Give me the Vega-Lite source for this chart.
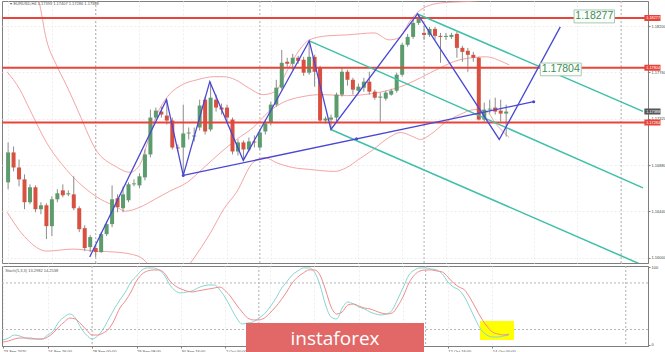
{
"$schema": "https://vega.github.io/schema/vega-lite/v6.json",
"background": "white",
"padding": {"left": 0, "top": 0, "right": 0, "bottom": 0},
"spacing": 0,
"config": {"view": {"stroke": "#7f7f7f", "strokeWidth": 1}, "axis": {"labelFont": "Liberation Sans", "domainColor": "#7f7f7f", "tickColor": "#7f7f7f", "labelColor": "#444444"}, "text": {"font": "Liberation Sans"}},
"datasets": {
"candles": [
{"i":0,"o":1.16716,"h":1.17095,"l":1.16650,"c":1.17000},
{"i":1,"o":1.17000,"h":1.17057,"l":1.16820,"c":1.16857},
{"i":2,"o":1.16857,"h":1.16933,"l":1.16678,"c":1.16744},
{"i":3,"o":1.16744,"h":1.16791,"l":1.16461,"c":1.16527},
{"i":4,"o":1.16527,"h":1.16697,"l":1.16508,"c":1.16669},
{"i":5,"o":1.16669,"h":1.16687,"l":1.16432,"c":1.16461},
{"i":6,"o":1.16461,"h":1.16527,"l":1.16413,"c":1.16498},
{"i":7,"o":1.16498,"h":1.16517,"l":1.16177,"c":1.16300},
{"i":8,"o":1.16300,"h":1.16584,"l":1.16205,"c":1.16555},
{"i":9,"o":1.16555,"h":1.16650,"l":1.16527,"c":1.16612},
{"i":10,"o":1.16640,"h":1.16697,"l":1.16574,"c":1.16593},
{"i":11,"o":1.16602,"h":1.16640,"l":1.16584,"c":1.16612},
{"i":12,"o":1.16602,"h":1.16773,"l":1.16451,"c":1.16470},
{"i":13,"o":1.16470,"h":1.16489,"l":1.16243,"c":1.16271},
{"i":14,"o":1.16281,"h":1.16309,"l":1.16063,"c":1.16092},
{"i":15,"o":1.16101,"h":1.16215,"l":1.16054,"c":1.16196},
{"i":16,"o":1.16092,"h":1.16120,"l":1.16007,"c":1.16054},
{"i":17,"o":1.16054,"h":1.16243,"l":1.16044,"c":1.16224},
{"i":18,"o":1.16224,"h":1.16347,"l":1.16205,"c":1.16319},
{"i":19,"o":1.16319,"h":1.16687,"l":1.16290,"c":1.16555},
{"i":20,"o":1.16565,"h":1.16602,"l":1.16432,"c":1.16480},
{"i":21,"o":1.16470,"h":1.16678,"l":1.16432,"c":1.16602},
{"i":22,"o":1.16546,"h":1.16716,"l":1.16527,"c":1.16697},
{"i":23,"o":1.16697,"h":1.16744,"l":1.16678,"c":1.16706},
{"i":24,"o":1.16687,"h":1.16801,"l":1.16659,"c":1.16773},
{"i":25,"o":1.16763,"h":1.17028,"l":1.16735,"c":1.16981},
{"i":26,"o":1.16981,"h":1.17407,"l":1.16952,"c":1.17331},
{"i":27,"o":1.17331,"h":1.17426,"l":1.17312,"c":1.17397},
{"i":28,"o":1.17388,"h":1.17435,"l":1.17331,"c":1.17360},
{"i":29,"o":1.17350,"h":1.17501,"l":1.17265,"c":1.17303},
{"i":30,"o":1.17303,"h":1.17331,"l":1.17028,"c":1.17047},
{"i":31,"o":1.17047,"h":1.17076,"l":1.17009,"c":1.17038},
{"i":32,"o":1.17047,"h":1.17454,"l":1.16782,"c":1.17180},
{"i":33,"o":1.17180,"h":1.17237,"l":1.17123,"c":1.17189},
{"i":34,"o":1.17151,"h":1.17237,"l":1.17104,"c":1.17161},
{"i":35,"o":1.17237,"h":1.17501,"l":1.17208,"c":1.17445},
{"i":36,"o":1.17501,"h":1.17530,"l":1.17170,"c":1.17199},
{"i":37,"o":1.17218,"h":1.17672,"l":1.17199,"c":1.17520},
{"i":38,"o":1.17501,"h":1.17549,"l":1.17388,"c":1.17426},
{"i":39,"o":1.17426,"h":1.17464,"l":1.17360,"c":1.17407},
{"i":40,"o":1.17426,"h":1.17454,"l":1.17293,"c":1.17331},
{"i":41,"o":1.17312,"h":1.17331,"l":1.16981,"c":1.17009},
{"i":42,"o":1.17009,"h":1.17123,"l":1.16971,"c":1.17095},
{"i":43,"o":1.17095,"h":1.17114,"l":1.16924,"c":1.17028},
{"i":44,"o":1.17028,"h":1.17142,"l":1.17009,"c":1.17104},
{"i":45,"o":1.17104,"h":1.17161,"l":1.17047,"c":1.17095},
{"i":46,"o":1.17047,"h":1.17218,"l":1.17028,"c":1.17189},
{"i":47,"o":1.17199,"h":1.17312,"l":1.17170,"c":1.17275},
{"i":48,"o":1.17284,"h":1.17482,"l":1.17256,"c":1.17454},
{"i":49,"o":1.17454,"h":1.17690,"l":1.17435,"c":1.17615},
{"i":50,"o":1.17615,"h":1.17974,"l":1.17596,"c":1.17851},
{"i":51,"o":1.17861,"h":1.17899,"l":1.17813,"c":1.17842},
{"i":52,"o":1.17842,"h":1.17936,"l":1.17785,"c":1.17899},
{"i":53,"o":1.17899,"h":1.17918,"l":1.17842,"c":1.17870},
{"i":54,"o":1.17880,"h":1.17908,"l":1.17728,"c":1.17757},
{"i":55,"o":1.17757,"h":1.18059,"l":1.17738,"c":1.17908},
{"i":56,"o":1.17908,"h":1.17927,"l":1.17624,"c":1.17766},
{"i":57,"o":1.17804,"h":1.17823,"l":1.17284,"c":1.17303},
{"i":58,"o":1.17303,"h":1.17341,"l":1.17275,"c":1.17322},
{"i":59,"o":1.17312,"h":1.17360,"l":1.17218,"c":1.17331},
{"i":60,"o":1.17331,"h":1.17568,"l":1.17284,"c":1.17549},
{"i":61,"o":1.17549,"h":1.17804,"l":1.17530,"c":1.17766},
{"i":62,"o":1.17766,"h":1.17785,"l":1.17634,"c":1.17690},
{"i":63,"o":1.17690,"h":1.17709,"l":1.17549,"c":1.17596},
{"i":64,"o":1.17586,"h":1.17653,"l":1.17558,"c":1.17624},
{"i":65,"o":1.17615,"h":1.17709,"l":1.17577,"c":1.17672},
{"i":66,"o":1.17672,"h":1.17766,"l":1.17549,"c":1.17577},
{"i":67,"o":1.17577,"h":1.17596,"l":1.17501,"c":1.17520},
{"i":68,"o":1.17520,"h":1.17568,"l":1.17284,"c":1.17530},
{"i":69,"o":1.17511,"h":1.17586,"l":1.17492,"c":1.17568},
{"i":70,"o":1.17549,"h":1.17605,"l":1.17539,"c":1.17586},
{"i":71,"o":1.17586,"h":1.17757,"l":1.17568,"c":1.17738},
{"i":72,"o":1.17738,"h":1.18041,"l":1.17719,"c":1.18022},
{"i":73,"o":1.18022,"h":1.18126,"l":1.18003,"c":1.18097},
{"i":74,"o":1.18097,"h":1.18258,"l":1.18078,"c":1.18230},
{"i":75,"o":1.18230,"h":1.18315,"l":1.18211,"c":1.18286},
{"i":76,"o":1.18135,"h":1.18201,"l":1.18069,"c":1.18116},
{"i":77,"o":1.18116,"h":1.18192,"l":1.18097,"c":1.18173},
{"i":78,"o":1.18173,"h":1.18192,"l":1.18069,"c":1.18107},
{"i":79,"o":1.18107,"h":1.18135,"l":1.17851,"c":1.18097},
{"i":80,"o":1.18097,"h":1.18135,"l":1.18069,"c":1.18107},
{"i":81,"o":1.18097,"h":1.18135,"l":1.18078,"c":1.18116},
{"i":82,"o":1.18126,"h":1.18145,"l":1.17899,"c":1.17993},
{"i":83,"o":1.17993,"h":1.18012,"l":1.17861,"c":1.17955},
{"i":84,"o":1.17965,"h":1.17993,"l":1.17766,"c":1.17927},
{"i":85,"o":1.17927,"h":1.17955,"l":1.17861,"c":1.17899},
{"i":86,"o":1.17899,"h":1.17908,"l":1.17303,"c":1.17312},
{"i":87,"o":1.17312,"h":1.17473,"l":1.17293,"c":1.17407},
{"i":88,"o":1.17407,"h":1.17501,"l":1.17369,"c":1.17416},
{"i":89,"o":1.17426,"h":1.17520,"l":1.17360,"c":1.17388},
{"i":90,"o":1.17397,"h":1.17501,"l":1.17293,"c":1.17369},
{"i":91,"o":1.17369,"h":1.17454,"l":1.17151,"c":1.17388}
],
"bands": [
{"b":"u","i":4.32,"p":1.18589},{"b":"u","i":5.58,"p":1.18447},{"b":"u","i":7.01,"p":1.18069},{"b":"u","i":8.81,"p":1.17832},{"b":"u","i":10.61,"p":1.17643},{"b":"u","i":11.87,"p":1.17501},{"b":"u","i":13.31,"p":1.17331},{"b":"u","i":16.01,"p":1.17028},{"b":"u","i":19.6,"p":1.16868},{"b":"u","i":22.3,"p":1.16811},{"b":"u","i":24.1,"p":1.16886},{"b":"u","i":25.36,"p":1.17076},{"b":"u","i":26.8,"p":1.17312},{"b":"u","i":29.14,"p":1.1753},{"b":"u","i":31.83,"p":1.17643},{"b":"u","i":34.53,"p":1.1769},{"b":"u","i":37.59,"p":1.17719},{"b":"u","i":39.39,"p":1.17719},{"b":"u","i":41.55,"p":1.1769},{"b":"u","i":43.88,"p":1.17615},{"b":"u","i":46.58,"p":1.17549},{"b":"u","i":48.74,"p":1.17577},{"b":"u","i":51.08,"p":1.17785},{"b":"u","i":53.24,"p":1.17974},{"b":"u","i":55.04,"p":1.18069},{"b":"u","i":58.27,"p":1.18107},{"b":"u","i":61.87,"p":1.18116},{"b":"u","i":66.91,"p":1.18135},{"b":"u","i":69.6,"p":1.18069},{"b":"u","i":71.4,"p":1.18088},{"b":"u","i":73.56,"p":1.18258},{"b":"u","i":75.36,"p":1.18353},{"b":"u","i":78.96,"p":1.18419},{"b":"u","i":85.25,"p":1.18438},{"b":"u","i":89.75,"p":1.18466},{"b":"u","i":91.55,"p":1.18495},
{"b":"m","i":-0.18,"p":1.17766},{"b":"m","i":2.16,"p":1.17596},{"b":"m","i":3.96,"p":1.17407},{"b":"m","i":7.01,"p":1.17095},{"b":"m","i":10.61,"p":1.16839},{"b":"m","i":13.67,"p":1.16678},{"b":"m","i":16.91,"p":1.16555},{"b":"m","i":19.6,"p":1.16489},{"b":"m","i":21.4,"p":1.16442},{"b":"m","i":24.1,"p":1.1648},{"b":"m","i":26.8,"p":1.16555},{"b":"m","i":29.5,"p":1.16631},{"b":"m","i":32.73,"p":1.16716},{"b":"m","i":35.79,"p":1.16857},{"b":"m","i":38.85,"p":1.17},{"b":"m","i":41.73,"p":1.17123},{"b":"m","i":44.78,"p":1.17237},{"b":"m","i":47.48,"p":1.17379},{"b":"m","i":50.18,"p":1.17473},{"b":"m","i":53.78,"p":1.1753},{"b":"m","i":57.37,"p":1.17549},{"b":"m","i":61.87,"p":1.17539},{"b":"m","i":66.37,"p":1.17558},{"b":"m","i":69.96,"p":1.17596},{"b":"m","i":72.66,"p":1.17643},{"b":"m","i":75.36,"p":1.17709},{"b":"m","i":78.96,"p":1.17804},{"b":"m","i":82.55,"p":1.1788},{"b":"m","i":87.41,"p":1.17908},{"b":"m","i":90.29,"p":1.17861},{"b":"m","i":91.55,"p":1.17832},
{"b":"l","i":-0.18,"p":1.16432},{"b":"l","i":3.42,"p":1.16177},{"b":"l","i":7.01,"p":1.16063},{"b":"l","i":11.87,"p":1.16082},{"b":"l","i":16.01,"p":1.16063},{"b":"l","i":19.6,"p":1.16054},{"b":"l","i":23.74,"p":1.16016},{"b":"l","i":25.54,"p":1.1594},{"b":"l","i":26.8,"p":1.15846},{"b":"l","i":30.4,"p":1.15751},{"b":"l","i":33.45,"p":1.15959},{"b":"l","i":37.05,"p":1.16243},{"b":"l","i":39.39,"p":1.16461},{"b":"l","i":41.73,"p":1.16622},{"b":"l","i":44.78,"p":1.16905},{"b":"l","i":46.94,"p":1.16952},{"b":"l","i":48.92,"p":1.16905},{"b":"l","i":51.98,"p":1.16857},{"b":"l","i":55.04,"p":1.16839},{"b":"l","i":59.71,"p":1.1682},{"b":"l","i":61.87,"p":1.16857},{"b":"l","i":64.03,"p":1.16933},{"b":"l","i":66.73,"p":1.17028},{"b":"l","i":69.06,"p":1.17123},{"b":"l","i":71.76,"p":1.17189},{"b":"l","i":73.92,"p":1.17151},{"b":"l","i":75.36,"p":1.17123},{"b":"l","i":77.16,"p":1.1717},{"b":"l","i":79.86,"p":1.17284},{"b":"l","i":82.55,"p":1.1736},{"b":"l","i":85.25,"p":1.17407},{"b":"l","i":87.41,"p":1.17388},{"b":"l","i":89.21,"p":1.17265},{"b":"l","i":91.55,"p":1.17142}
],
"zig": [
{"k":0,"i":14.91,"p":1.16007},{"k":1,"i":28.94,"p":1.17501},{"k":2,"i":32.0,"p":1.16782},{"k":3,"i":36.85,"p":1.17672},{"k":4,"i":42.97,"p":1.16924},{"k":5,"i":55.02,"p":1.18059},{"k":6,"i":58.98,"p":1.17218},{"k":7,"i":74.81,"p":1.18315},{"k":8,"i":89.74,"p":1.17123},{"k":9,"i":100.89,"p":1.18192}
],
"trend": [{"i1":32.0,"p1":1.16782,"i2":96.03,"p2":1.17482}],
"dots": [{"i":32.0,"p":1.16782},{"i":63.66,"p":1.17129},{"i":96.03,"p":1.17482}],
"chan": [
{"i1":74.81,"p1":1.18315,"i2":116,"p2":1.1739},
{"i1":55.02,"p1":1.18059,"i2":116,"p2":1.16664},
{"i1":58.98,"p1":1.17218,"i2":116,"p2":1.15928}
],
"levels": [{"p":1.18277},{"p":1.17804},{"p":1.17284}],
"boxes": [
{"t":"1.18277","x1":103.4,"x2":110.8,"y1":1.18353,"y2":1.1823,"tx":107.1,"ty":1.18291},
{"t":"1.17804","x1":97.24,"x2":104.72,"y1":1.17849,"y2":1.17728,"tx":100.98,"ty":1.17788}
],
"tags": [
{"t":"1.18277","p":1.18277,"kind":"r"},
{"t":"1.17804","p":1.17804,"kind":"r"},
{"t":"1.17284","p":1.17284,"kind":"r"},
{"t":"1.17388","p":1.17388,"kind":"g"}
],
"seps": [{"i":16},{"i":46},{"i":76},{"i":112}],
"stoch": [
{"i":0,"k":6.5,"d":3.9},{"i":1,"k":9,"d":5.2},{"i":2,"k":12.9,"d":7.7},{"i":3,"k":11.6,"d":9},{"i":4,"k":9,"d":9},{"i":5,"k":7.7,"d":9},{"i":6,"k":7.7,"d":7.7},{"i":7,"k":7.7,"d":7.7},{"i":8,"k":12.9,"d":10.3},{"i":9,"k":18.1,"d":15.5},
{"i":10,"k":29.7,"d":23.2},{"i":11,"k":36.1,"d":29.7},{"i":12,"k":40,"d":34.8},{"i":13,"k":34.8,"d":33.5},{"i":14,"k":21.9,"d":27.1},{"i":15,"k":12.9,"d":19.4},{"i":16,"k":7.7,"d":12.9},{"i":17,"k":11.6,"d":12.9},{"i":18,"k":20.6,"d":15.5},{"i":19,"k":33.5,"d":20.6},
{"i":20,"k":46.5,"d":32.3},{"i":21,"k":58.1,"d":47.7},{"i":22,"k":68.4,"d":56.8},{"i":23,"k":81.3,"d":68.4},{"i":24,"k":89,"d":82.6},{"i":25,"k":96.8,"d":91.6},{"i":26,"k":99.4,"d":95.5},{"i":27,"k":99.4,"d":96.8},{"i":28,"k":96.8,"d":96.8},{"i":29,"k":90.3,"d":92.9},
{"i":30,"k":77.4,"d":82.6},{"i":31,"k":69.7,"d":76.1},{"i":32,"k":67.1,"d":72.3},{"i":33,"k":68.4,"d":69.7},{"i":34,"k":69.7,"d":68.4},{"i":35,"k":73.5,"d":69.7},{"i":36,"k":76.1,"d":71},{"i":37,"k":77.4,"d":72.3},{"i":38,"k":77.4,"d":73.5},{"i":39,"k":71,"d":74.8},
{"i":40,"k":60.6,"d":69.7},{"i":41,"k":47.7,"d":61.9},{"i":42,"k":34.8,"d":51.6},{"i":43,"k":27.1,"d":42.6},{"i":44,"k":28.4,"d":34.8},{"i":45,"k":29.7,"d":32.3},{"i":46,"k":34.8,"d":32.3},{"i":47,"k":40,"d":34.8},{"i":48,"k":49,"d":41.3},{"i":49,"k":59.4,"d":49},
{"i":50,"k":72.3,"d":58.1},{"i":51,"k":81.3,"d":68.4},{"i":52,"k":90.3,"d":80},{"i":53,"k":95.5,"d":87.7},{"i":54,"k":99.4,"d":92.9},{"i":55,"k":99.4,"d":96.8},{"i":56,"k":94.2,"d":96.8},{"i":57,"k":77.4,"d":90.3},{"i":58,"k":51.6,"d":71},{"i":59,"k":36.1,"d":49},
{"i":60,"k":33.5,"d":40},{"i":61,"k":47.7,"d":42.6},{"i":62,"k":55.5,"d":51.6},{"i":63,"k":52.9,"d":52.9},{"i":64,"k":49,"d":50.3},{"i":65,"k":46.5,"d":47.7},{"i":66,"k":42.6,"d":46.5},{"i":67,"k":40,"d":43.9},{"i":68,"k":38.7,"d":41.3},{"i":69,"k":40,"d":40},
{"i":70,"k":45.2,"d":41.3},{"i":71,"k":59.4,"d":50.3},{"i":72,"k":74.8,"d":63.2},{"i":73,"k":90.3,"d":80},{"i":74,"k":96.8,"d":90.3},{"i":75,"k":99.4,"d":95.5},{"i":76,"k":99.4,"d":96.8},{"i":77,"k":98.1,"d":96.8},{"i":78,"k":96.8,"d":95.5},{"i":79,"k":91.6,"d":94.2},
{"i":80,"k":81.3,"d":87.7},{"i":81,"k":74.8,"d":80},{"i":82,"k":71,"d":74.8},{"i":83,"k":61.9,"d":71},{"i":84,"k":47.7,"d":60.6},{"i":85,"k":32.3,"d":47.7},{"i":86,"k":19.4,"d":34.8},{"i":87,"k":12.9,"d":24.5},{"i":88,"k":10.3,"d":16.8},{"i":89,"k":10.3,"d":14.2},
{"i":90,"k":11.6,"d":12.9},{"i":91,"k":12.9,"d":14.2}
],
"stochlevels": [{"v":20},{"v":80}],
"one": [{"n":1}]
},
"vconcat": [
{
"width": 646,
"height": 262,
"layer": [
{"data": {"name": "seps"}, "mark": {"type": "rule", "color": "#b0b0b0", "strokeDash": [2, 2], "strokeWidth": 1},
 "encoding": {"x": {"field": "i", "type": "quantitative", "title": null, "scale": {"domain": [-0.2, 116], "nice": false, "zero": false},
   "axis": {"values": [0,4,8,12,16,20,24,28,32,36,40,44,48,52,56,60,64,68,72,76,80,84,88,92,96,100,104,108,112], "labels": false, "ticks": false, "domain": false, "grid": true, "gridColor": "#eeeeee", "gridDash": [2, 2], "title": null}}}},
{"data": {"name": "bands"}, "mark": {"type": "line", "color": "#f29a9a", "strokeWidth": 0.9, "interpolate": "monotone", "clip": true},
 "encoding": {"x": {"field": "i", "type": "quantitative", "title": null}, "y": {"field": "p", "type": "quantitative", "title": null, "scale": {"domain": [1.1595, 1.18438], "nice": false, "zero": false},
   "axis": {"orient": "right", "values": [1.16,1.1611,1.1622,1.1633,1.1644,1.1655,1.1666,1.1677,1.1688,1.1699,1.171,1.1721,1.1732,1.1743,1.1754,1.1765,1.1776,1.1787,1.1798,1.1809,1.182,1.1831,1.1842], "format": ".5f", "labelFontSize": 4, "tickSize": 2, "labelPadding": 1, "grid": true, "gridColor": "#eeeeee", "gridDash": [2, 2], "title": null}},
   "detail": {"field": "b"}}},
{"data": {"name": "candles"}, "mark": {"type": "rule", "color": "#8c8c8c", "strokeWidth": 1},
 "encoding": {"x": {"field": "i", "type": "quantitative", "title": null}, "y": {"field": "l", "type": "quantitative", "title": null}, "y2": {"field": "h"}}},
{"data": {"name": "candles"}, "mark": {"type": "bar", "width": 4},
 "encoding": {"x": {"field": "i", "type": "quantitative", "title": null}, "y": {"field": "o", "type": "quantitative", "title": null}, "y2": {"field": "c"},
   "color": {"condition": {"test": "datum.c >= datum.o", "value": "#5b9b6c"}, "value": "#d8503f"}}},
{"data": {"name": "levels"}, "mark": {"type": "rule", "color": "#e8443a", "strokeWidth": 2},
 "encoding": {"y": {"field": "p", "type": "quantitative", "title": null}}},
{"data": {"name": "chan"}, "mark": {"type": "rule", "color": "#3ec0a8", "strokeWidth": 1.5, "clip": true},
 "encoding": {"x": {"field": "i1", "type": "quantitative", "title": null}, "x2": {"field": "i2"}, "y": {"field": "p1", "type": "quantitative", "title": null}, "y2": {"field": "p2"}}},
{"data": {"name": "zig"}, "mark": {"type": "line", "color": "#4a47d4", "strokeWidth": 1.3},
 "encoding": {"x": {"field": "i", "type": "quantitative", "title": null}, "y": {"field": "p", "type": "quantitative", "title": null}, "order": {"field": "k"}}},
{"data": {"name": "trend"}, "mark": {"type": "rule", "color": "#4a47d4", "strokeWidth": 1.3},
 "encoding": {"x": {"field": "i1", "type": "quantitative", "title": null}, "x2": {"field": "i2"}, "y": {"field": "p1", "type": "quantitative", "title": null}, "y2": {"field": "p2"}}},
{"data": {"name": "dots"}, "mark": {"type": "point", "filled": true, "color": "#4a47d4", "size": 9, "opacity": 1},
 "encoding": {"x": {"field": "i", "type": "quantitative", "title": null}, "y": {"field": "p", "type": "quantitative", "title": null}}},
{"data": {"name": "boxes"}, "mark": {"type": "rect", "fill": "#fbfdfb", "stroke": "#a9c9b2", "strokeWidth": 1},
 "encoding": {"x": {"field": "x1", "type": "quantitative", "title": null}, "x2": {"field": "x2"}, "y": {"field": "y1", "type": "quantitative", "title": null}, "y2": {"field": "y2"}}},
{"data": {"name": "boxes"}, "mark": {"type": "text", "color": "#3f8d58", "fontSize": 10.5, "font": "Liberation Sans", "align": "center", "baseline": "middle"},
 "encoding": {"x": {"field": "tx", "type": "quantitative", "title": null}, "y": {"field": "ty", "type": "quantitative", "title": null}, "text": {"field": "t"}}},
{"data": {"name": "tags"}, "mark": {"type": "rect", "clip": false},
 "encoding": {"x": {"datum": 116.25, "type": "quantitative"}, "x2": {"datum": 119.2},
   "y": {"field": "p", "type": "quantitative", "title": null}, "y2": {"field": "p"},
   "color": {"condition": {"test": "datum.kind == 'r'", "value": "#e8443a"}, "value": "#555555"}, "strokeWidth": {"value": 6}, "stroke": {"condition": {"test": "datum.kind == 'r'", "value": "#e8443a"}, "value": "#555555"}}},
{"data": {"name": "tags"}, "mark": {"type": "text", "color": "white", "fontSize": 3.8, "align": "left", "baseline": "middle"},
 "encoding": {"x": {"datum": 116.6, "type": "quantitative"}, "y": {"field": "p", "type": "quantitative", "title": null}, "text": {"field": "t"}}},
{"data": {"name": "one"}, "mark": {"type": "text", "color": "#555555", "fontSize": 4, "align": "left", "baseline": "middle"},
 "encoding": {"x": {"datum": 0.4, "type": "quantitative"}, "y": {"datum": 1.18405, "type": "quantitative"}, "text": {"value": "▾ EURUSD,H4  1.17393 1.17407 1.17286 1.17388"}}}
]
},
{
"width": 646,
"height": 80,
"layer": [
{"data": {"name": "seps"}, "mark": {"type": "rule", "color": "#b0b0b0", "strokeDash": [2, 2], "strokeWidth": 1},
 "encoding": {"x": {"field": "i", "type": "quantitative", "title": null, "scale": {"domain": [-0.2, 116], "nice": false, "zero": false},
   "axis": {"values": [0,4,8,12,16,20,24,28,32,36,40,44,48,52,56,60,64,68,72,76,80,84,88],
     "labelExpr": "['23 Sep 2020','24 Sep 00:00','24 Sep 16:00','25 Sep 08:00','28 Sep 00:00','28 Sep 16:00','29 Sep 08:00','30 Sep 00:00','30 Sep 16:00','1 Oct 08:00','2 Oct 00:00','','','','','','','','','12 Oct 00:00','12 Oct 16:00','13 Oct 08:00','14 Oct 00:00'][round(datum.value/4)]",
     "labelFontSize": 4, "labelAlign": "left", "labelPadding": 1, "tickSize": 2, "labelOverlap": false, "labelFlush": false, "grid": true, "gridColor": "#eeeeee", "gridDash": [2, 2], "title": null}}}},
{"data": {"name": "stochlevels"}, "mark": {"type": "rule", "color": "#b8b8b8", "strokeDash": [2, 2], "strokeWidth": 1},
 "encoding": {"y": {"field": "v", "type": "quantitative", "title": null, "scale": {"domain": [-1.3, 101.9], "nice": false, "zero": false},
   "axis": {"orient": "right", "values": [0, 20, 80, 100], "labelFontSize": 4, "tickSize": 2, "labelPadding": 1, "grid": false, "title": null}}}},
{"data": {"name": "one"}, "mark": {"type": "rect", "color": "#ffff00"},
 "encoding": {"x": {"datum": 85.78, "type": "quantitative"}, "x2": {"datum": 91.9}, "y": {"datum": 31, "type": "quantitative"}, "y2": {"datum": 6.5}}},
{"data": {"name": "stoch"}, "mark": {"type": "line", "color": "#86d6d2", "strokeWidth": 1, "interpolate": "monotone"},
 "encoding": {"x": {"field": "i", "type": "quantitative", "title": null}, "y": {"field": "k", "type": "quantitative", "title": null}}},
{"data": {"name": "stoch"}, "mark": {"type": "line", "color": "#f08c8c", "strokeWidth": 1, "interpolate": "monotone"},
 "encoding": {"x": {"field": "i", "type": "quantitative", "title": null}, "y": {"field": "d", "type": "quantitative", "title": null}}},
{"data": {"name": "one"}, "mark": {"type": "rect", "color": "#e26868", "clip": false},
 "encoding": {"x": {"datum": 43.69, "type": "quantitative"}, "x2": {"datum": 75.71}, "y": {"datum": 28.4, "type": "quantitative"}, "y2": {"datum": -11.3}}},
{"data": {"name": "one"}, "mark": {"type": "text", "color": "white", "fontSize": 19, "font": "Open Sans", "align": "center", "baseline": "alphabetic"},
 "encoding": {"x": {"datum": 59.7, "type": "quantitative"}, "y": {"datum": 0, "type": "quantitative"}, "text": {"value": "instaforex"}}},
{"data": {"name": "one"}, "mark": {"type": "text", "color": "#555555", "fontSize": 4, "align": "left", "baseline": "middle"},
 "encoding": {"x": {"datum": 0.4, "type": "quantitative"}, "y": {"datum": 96, "type": "quantitative"}, "text": {"value": "Stoch(5,3,3) 13.2982 14.2538"}}}
]
}
]
}
